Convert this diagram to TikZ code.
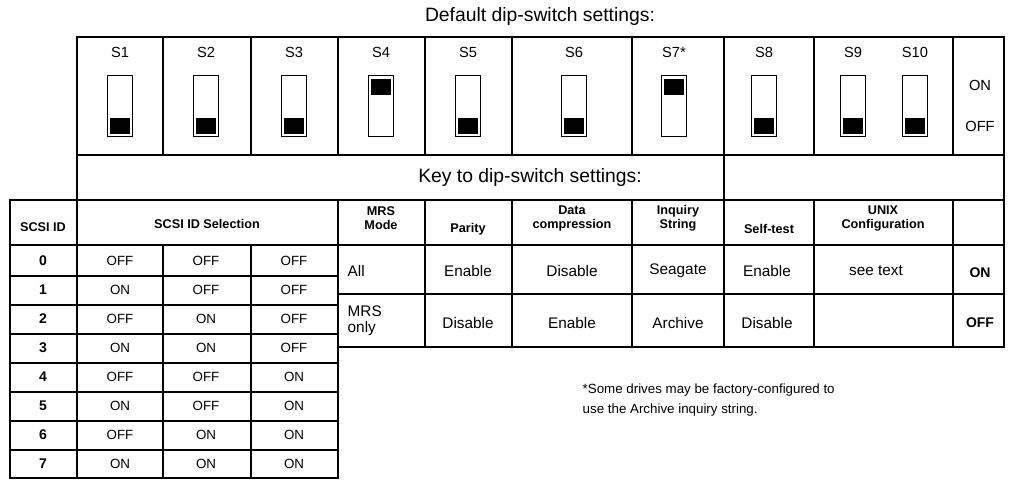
\documentclass[tikz,border=0pt]{standalone}
\usepackage{fontspec}
\setmainfont{Liberation Sans}
\begin{document}
\begin{tikzpicture}[x=0.75pt,y=-0.75pt,
  thick/.style={line width=1.6pt},
  thin/.style={line width=0.8pt},
  sw/.style={draw,line width=0.8pt,minimum width=18.5pt,minimum height=46pt,inner sep=0pt},
  knob/.style={fill=black,minimum width=14.5pt,minimum height=12.5pt,inner sep=0pt},
  lab/.style={font=\fontsize{11}{12}\selectfont},
  big/.style={font=\fontsize{14.5}{16}\selectfont},
  hd/.style={font=\fontsize{9.5}{10.5}\selectfont\bfseries,align=center},
  cell/.style={font=\fontsize{10}{11}\selectfont},
  val/.style={font=\fontsize{11.5}{12}\selectfont}]
\useasboundingbox (0,0) rectangle (1010,485);
\node[big] (t1) at (540,17) {Default dip-switch settings:};
% top box
\draw[thick] (77,200) -- (77,37) -- (1004,37) -- (1004,347) -- (338,347);
\draw[thick] (77,155) -- (1004,155) (10,200) -- (1004,200) (10,245) -- (1004,245);
\foreach \x in {163,251,338,425,512,632,724,814,953} \draw[thin] (\x,37) -- (\x,155);
\draw[thin] (724,155) -- (724,200);
% switches
\foreach \n/\x/\s in {S1/120/0,S2/206/0,S3/294/0,S4/381/1,S5/468/0,S6/574/0,S7*/674/1,S8/764/0,S9/853/0,S10/915/0}{
  \node[lab] (l\x) at (\x,52) {\n};
  \node[sw] (b\x) at (\x,106) {};
  \ifnum\s=1 \node[knob] (k\x) at (\x,87) {};\else \node[knob] (k\x) at (\x,126) {};\fi
}
\node[lab] (on) at (980,85) {ON};
\node[lab] (off) at (980,126) {OFF};
\node[big] (key) at (530,178) {Key to dip-switch settings:};
% header row
\node[hd] (h0) at (43,227) {SCSI ID};
\node[hd] (h1) at (207,224) {SCSI ID Selection};
\node[hd] (h2) at (381,218) {MRS\\Mode};
\node[hd] (h3) at (468,229) {Parity};
\node[hd] (h4) at (572,218) {Data\\compression};
\node[hd] (h5) at (678,218) {Inquiry\\String};
\node[hd] (h6) at (769,229) {Self-test};
\node[hd] (h7) at (883,218) {UNIX\\Configuration};
\foreach \x in {425,512,632,724,814,953} \draw[thin] (\x,200) -- (\x,347);
\draw[thin] (338,200) -- (338,245);
\draw[thin] (338,294) -- (1004,294);
% left table
\draw[thick] (10,200) rectangle (338,478);
\draw[thick] (77,200) -- (77,478);
\foreach \x in {163,251} \draw[thin] (\x,245) -- (\x,478);
\foreach \i in {1,...,7} \draw[thin] (10,{247+29*\i}) -- (338,{247+29*\i});
\foreach \i/\a/\b/\c in {0/OFF/OFF/OFF,1/ON/OFF/OFF,2/OFF/ON/OFF,3/ON/ON/OFF,4/OFF/OFF/ON,5/ON/OFF/ON,6/OFF/ON/ON,7/ON/ON/ON}{
  \node[hd,font=\fontsize{10.5}{11}\selectfont\bfseries] (id\i) at (43,{261+29*\i}) {\i};
  \node[cell] (a\i) at (120,{261+29*\i}) {\a};
  \node[cell] (bb\i) at (206,{261+29*\i}) {\b};
  \node[cell] (c\i) at (294,{261+29*\i}) {\c};
}
% values
\node[val,anchor=west] (v1) at (343,271) {All};
\node[val,align=left,anchor=west] (v2) at (343,321) {MRS\\only};
\node[val] (v3) at (468,271) {Enable};
\node[val] (v4) at (468,323) {Disable};
\node[val] (v5) at (572,271) {Disable};
\node[val] (v6) at (572,323) {Enable};
\node[val] (v7) at (678,271) {Seagate};
\node[val] (v8) at (678,323) {Archive};
\node[val] (v9) at (767,271) {Enable};
\node[val] (v10) at (767,323) {Disable};
\node[val] (v11) at (876,271) {see text};
\node[hd,font=\fontsize{10.5}{11}\selectfont\bfseries] (v12) at (980,273) {ON};
\node[hd,font=\fontsize{10.5}{11}\selectfont\bfseries] (v13) at (980,323) {OFF};
\node[cell,anchor=west,align=left,font=\fontsize{10}{14.5}\selectfont] (fn) at (578,400) {*Some drives may be factory-configured to\\use the Archive inquiry string.};
\end{tikzpicture}
\end{document}
